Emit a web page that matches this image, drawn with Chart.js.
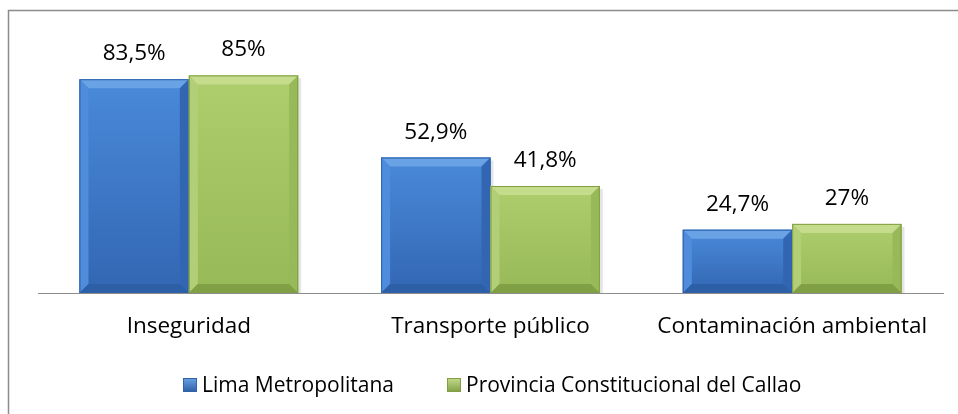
<!DOCTYPE html>
<html><head><meta charset="utf-8">
<script src="https://cdn.jsdelivr.net/npm/chart.js@4.4.1/dist/chart.umd.min.js"></script>
<style>html,body{margin:0;padding:0;background:#fff}#wrap{width:958px;height:414px;position:relative}</style>
</head><body><div id="wrap"><canvas id="c" width="958" height="414"></canvas></div>
<script>
const categories = ['Inseguridad', 'Transporte público', 'Contaminación ambiental'];
const limaValues = [83.5, 52.9, 24.7];
const callaoValues = [85, 41.8, 27];
const seriesNames = ['Lima Metropolitana', 'Provincia Constitucional del Callao'];

const FONT = "'Open Sans', 'Noto Sans', sans-serif";
const palette = [
  {main:'#3c7dd2', top:'#6aa2e6', side:'#4f8ddc', bottom:'#2c5fa5', edge:'#2f62a8', light:'#4a8ad9', dark:'#3266b3'},
  {main:'#a5c564', top:'#c4dc8c', side:'#b2cf77', bottom:'#819f44', edge:'#819f44', light:'#aecd6d', dark:'#98b957'}
];

function fmt(v){ return String(v).replace('.', ',') + '%'; }

const bevelPlugin = {
  id: 'bevel',
  afterDatasetsDraw(chart) {
    const ctx = chart.ctx;
    chart.data.datasets.forEach((ds, di) => {
      const meta = chart.getDatasetMeta(di);
      const p = palette[di];
      meta.data.forEach((bar, idx) => {
        const {x, y, base, width} = bar.getProps(['x','y','base','width'], true);
        const l = x - width/2, r = x + width/2, t = y, b = base;
        const bw = Math.min(9, (b - t)/3);
        ctx.save();
        ctx.fillStyle = 'rgba(0,0,0,0.10)';
        ctx.fillRect(r, t + 3, 3, b - t - 3);
        const g = ctx.createLinearGradient(0, t, 0, b);
        g.addColorStop(0, p.light); g.addColorStop(1, p.dark);
        ctx.fillStyle = g;
        ctx.fillRect(l, t, width, b - t);
        ctx.fillStyle = p.top;
        ctx.beginPath(); ctx.moveTo(l, t); ctx.lineTo(r, t); ctx.lineTo(r - bw, t + bw); ctx.lineTo(l + bw, t + bw); ctx.closePath(); ctx.fill();
        ctx.fillStyle = p.side;
        ctx.beginPath(); ctx.moveTo(l, t); ctx.lineTo(l + bw, t + bw); ctx.lineTo(l + bw, b - bw); ctx.lineTo(l, b); ctx.closePath(); ctx.fill();
        ctx.fillStyle = p.dark;
        ctx.beginPath(); ctx.moveTo(r, t); ctx.lineTo(r - bw, t + bw); ctx.lineTo(r - bw, b - bw); ctx.lineTo(r, b); ctx.closePath(); ctx.fill();
        ctx.fillStyle = p.bottom;
        ctx.beginPath(); ctx.moveTo(l, b); ctx.lineTo(r, b); ctx.lineTo(r - bw, b - bw); ctx.lineTo(l + bw, b - bw); ctx.closePath(); ctx.fill();
        ctx.strokeStyle = p.edge; ctx.lineWidth = 1;
        ctx.strokeRect(l + 0.5, t + 0.5, width - 1, b - t - 1);
        ctx.fillStyle = '#000';
        ctx.font = "22.5px " + FONT;
        ctx.textAlign = 'center'; ctx.textBaseline = 'alphabetic';
        ctx.fillText(fmt(ds.data[idx]), x, t - 19);
        ctx.restore();
      });
    });
  }
};

const framePlugin = {
  id: 'frame',
  beforeDraw(chart) {
    const ctx = chart.ctx;
    ctx.save();
    ctx.fillStyle = '#fff'; ctx.fillRect(0, 0, chart.width, chart.height);
    ctx.strokeStyle = '#8c8c8c'; ctx.lineWidth = 1.5;
    ctx.strokeRect(8.5, 10.5, 1000, 500);
    ctx.restore();
  },
  afterDraw(chart) {
    const ctx = chart.ctx;
    ctx.save();
    ctx.font = "21px " + FONT;
    ctx.textBaseline = 'alphabetic'; ctx.textAlign = 'left';
    const starts = [183, 447];
    chart.data.datasets.forEach((ds, i) => {
      const p = palette[i];
      const bx = starts[i], by = 378;
      const g = ctx.createLinearGradient(0, by, 0, by + 14);
      g.addColorStop(0, p.top); g.addColorStop(1, p.bottom);
      ctx.fillStyle = g; ctx.fillRect(bx, by, 14, 14);
      ctx.strokeStyle = p.edge; ctx.lineWidth = 1; ctx.strokeRect(bx + 0.5, by + 0.5, 13, 13);
      ctx.fillStyle = '#000';
      ctx.fillText(ds.label, bx + 19, 392);
    });
    ctx.restore();
  }
};

new Chart(document.getElementById('c'), {
  type: 'bar',
  data: {
    labels: categories,
    datasets: [
      {label: seriesNames[0], data: limaValues, backgroundColor: palette[0].main, borderWidth: 0},
      {label: seriesNames[1], data: callaoValues, backgroundColor: palette[1].main, borderWidth: 0}
    ]
  },
  options: {
    responsive: false,
    animation: false,
    layout: {padding: {left: 38, right: 15, top: 37, bottom: 54}},
    plugins: {legend: {display: false}, tooltip: {enabled: false}},
    datasets: {bar: {categoryPercentage: 0.725, barPercentage: 1.0}},
    scales: {
      x: {
        grid: {display: false, drawTicks: false},
        border: {display: true, color: '#8c8c8c', width: 1},
        ticks: {color: '#000', font: {family: FONT, size: 22.5}, padding: 20, maxRotation: 0}
      },
      y: {display: false, min: 0, max: 100}
    }
  },
  plugins: [framePlugin, bevelPlugin]
});
</script></body></html>
